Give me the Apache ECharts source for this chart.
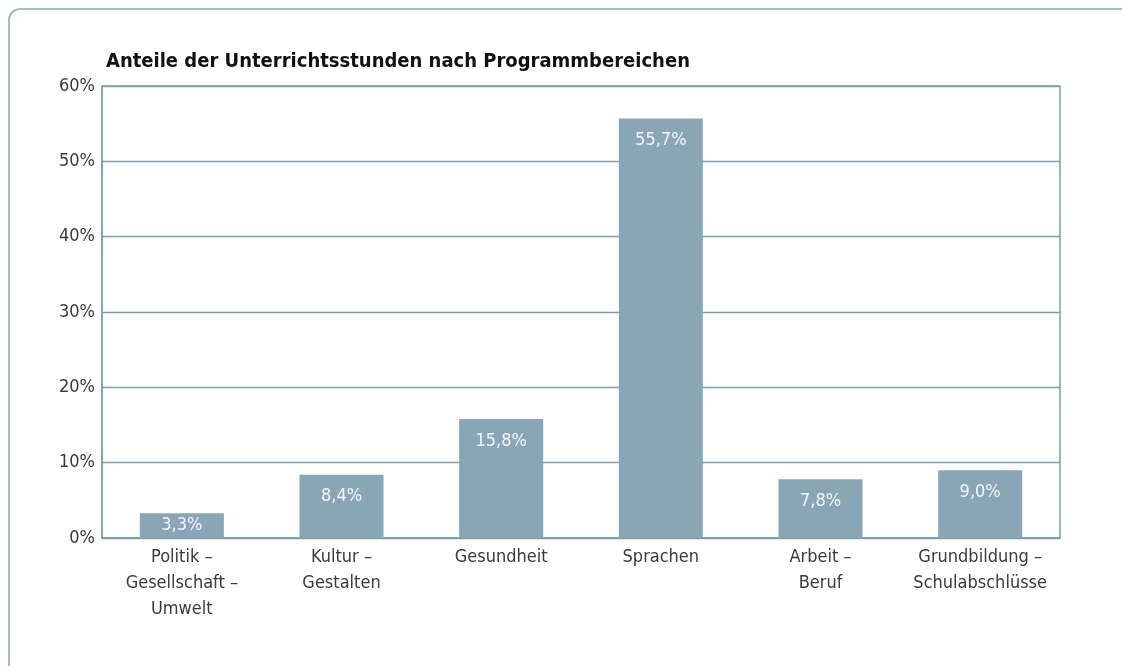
<!DOCTYPE html>
<html>
<head>
<meta charset="utf-8">
<script src="https://cdn.jsdelivr.net/npm/echarts@6/dist/echarts.min.js"></script>
<style>
  html, body { margin: 0; padding: 0; width: 1122px; height: 666px; overflow: hidden; background: #fff; }
  .frame {
    position: absolute; left: 8px; top: 8px; width: 1300px; height: 900px;
    border-left: 2px solid #a3bccb; border-top: 2px solid #a3bccb;
    border-top-left-radius: 12px;
  }
  #chart { position: absolute; left: 0; top: 0; width: 1122px; height: 666px; }
</style>
</head>
<body>
<div class="frame"></div>
<div id="chart"></div>
<script>
// Daten
var categories = [
  'Politik –\nGesellschaft –\nUmwelt',
  'Kultur –\nGestalten',
  'Gesundheit',
  'Sprachen',
  'Arbeit –\nBeruf',
  'Grundbildung –\nSchulabschlüsse'
];
var values = [3.3, 8.4, 15.8, 55.7, 7.8, 9.0];
var yTicks = [0, 10, 20, 30, 40, 50, 60];

var font = '"Liberation Sans Narrow", "DejaVu Sans Condensed", sans-serif';
var lineColor = '#7b9fb3';

var myChart = echarts.init(document.getElementById('chart'));

// kleine Balken: Beschriftung mittig
var barData = values.map(function (v) {
  var item = { value: v };
  if (v < 5) item.label = { position: 'inside' };
  return item;
});

myChart.setOption({
  animation: false,
  title: {
    text: 'Anteile der Unterrichtsstunden nach Programmbereichen',
    left: 101,
    top: 47,
    textStyle: { fontFamily: font, fontSize: 20, fontWeight: 'bold', color: '#111' }
  },
  grid: {
    left: 102, right: 62, top: 86, bottom: 128,
    show: true, borderColor: lineColor, borderWidth: 1.5
  },
  xAxis: {
    type: 'category',
    data: categories,
    axisLine: { lineStyle: { color: lineColor, width: 1.5 } },
    axisTick: { show: false },
    axisLabel: {
      fontFamily: font, fontSize: 18, color: '#3a3a3a', lineHeight: 26, margin: 6,
      interval: 0
    }
  },
  yAxis: {
    type: 'value',
    min: yTicks[0],
    max: yTicks[yTicks.length - 1],
    interval: yTicks[1] - yTicks[0],
    axisLine: { show: true, lineStyle: { color: lineColor, width: 1.5 } },
    axisTick: { show: false },
    splitLine: { lineStyle: { color: lineColor, width: 1.3 } },
    axisLabel: {
      fontFamily: font, fontSize: 18, color: '#3a3a3a', margin: 7,
      formatter: function (v) { return v + '%'; }
    }
  },
  series: [{
    type: 'bar',
    data: barData,
    barWidth: 84,
    itemStyle: { color: '#88a6b6' },
    label: {
      show: true,
      position: 'insideTop',
      distance: 13,
      fontFamily: font,
      fontSize: 18,
      color: '#f4f7f9',
      formatter: function (p) { return p.value.toFixed(1).replace('.', ',') + '%'; }
    }
  }]
});

window.addEventListener('resize', function () {
  myChart.resize();
});
</script>
</body>
</html>
